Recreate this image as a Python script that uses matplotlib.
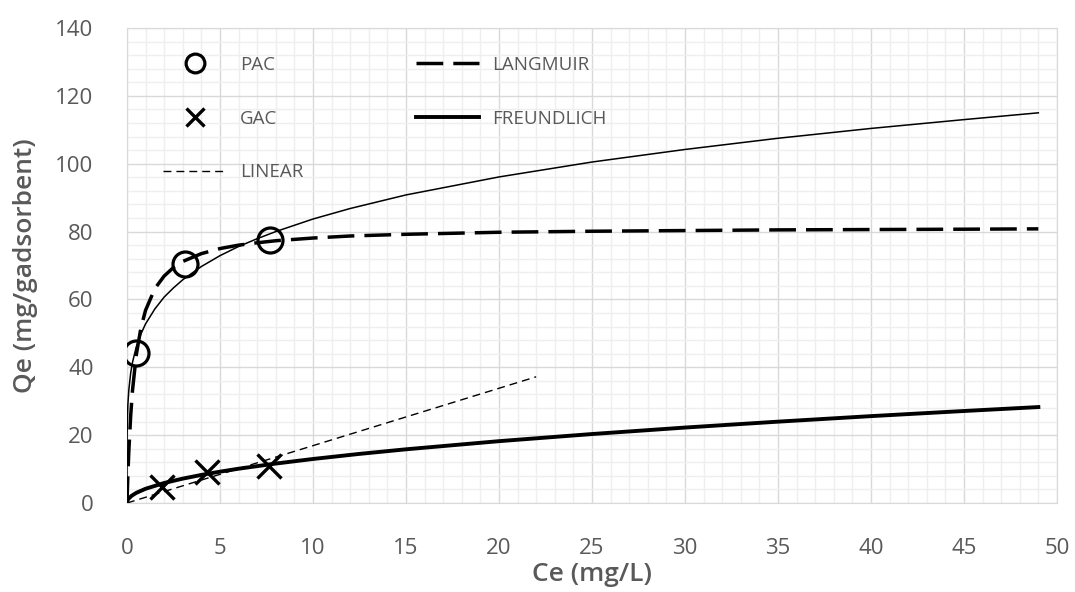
import matplotlib
matplotlib.use("Agg")
import matplotlib.pyplot as plt
from matplotlib.ticker import MultipleLocator

# measured points
pac_ce = [0.5, 3.1, 7.7]
pac_qe = [44.3, 70.4, 77.6]
gac_ce = [1.86, 4.32, 7.63]
gac_qe = [4.8, 9.0, 10.8]

# Langmuir fit curve (PAC)
lang_ce = [0, 0.05, 0.1, 0.2, 0.3, 0.5, 0.75, 1, 1.5, 2, 2.5, 3, 4, 5, 6, 7, 8,
           10, 12, 15, 20, 25, 30, 35, 40, 45, 49]
lang_qe = [0, 8.4, 15.2, 25.7, 33.3, 43.6, 51.6, 56.8, 63.2, 66.9, 69.4, 71.2,
           73.5, 75.0, 76.0, 76.7, 77.3, 78.1, 78.7, 79.2, 79.8, 80.1, 80.3,
           80.5, 80.6, 80.7, 80.8]

# Freundlich fit curve (PAC), thin line
fpac_ce = [0, 0.001, 0.005, 0.01, 0.02, 0.05, 0.1, 0.2, 0.3, 0.5, 0.75, 1, 1.5,
           2, 2.5, 3, 4, 5, 6, 7, 8, 10, 12, 15, 20, 25, 30, 35, 40, 45, 49]
fpac_qe = [0, 13.3, 18.3, 21.0, 24.1, 29.0, 33.3, 38.3, 41.5, 46.0, 49.8, 52.8,
           57.2, 60.7, 63.4, 65.8, 69.7, 72.9, 75.6, 77.9, 80.0, 83.7, 86.8,
           90.8, 96.1, 100.5, 104.2, 107.5, 110.4, 113.0, 115.0]

# Freundlich fit curve (GAC), thick line
fgac_ce = [0, 0.01, 0.05, 0.1, 0.25, 0.5, 1, 2, 3, 4, 5, 6, 8, 10, 12.5, 15,
           20, 25, 30, 35, 40, 45, 49]
fgac_qe = [0, 0.44, 0.97, 1.35, 2.13, 2.99, 4.20, 5.90, 7.19, 8.28, 9.24,
           10.11, 11.63, 12.98, 14.48, 15.83, 18.23, 20.33, 22.24, 23.98,
           25.61, 27.12, 28.28]

# Linear fit (GAC)
lin_ce = [0, 22]
lin_qe = [0, 37.2]

x_ticks = [0, 5, 10, 15, 20, 25, 30, 35, 40, 45, 50]
y_ticks = [0, 20, 40, 60, 80, 100, 120, 140]

plt.rcParams['font.family'] = ['Open Sans', 'DejaVu Sans']
grey = '#595959'

fig = plt.figure(figsize=(10.75, 5.92), dpi=100)
ax = fig.add_axes([0.1181, 0.1503, 0.8651, 0.8024])

l_pac, = ax.plot(pac_ce, pac_qe, 'o', ms=18, mfc='none', mec='black', mew=2.3, zorder=5)
l_gac, = ax.plot(gac_ce, gac_qe, 'x', ms=17, mec='black', mew=2.4, zorder=5)
l_lin, = ax.plot(lin_ce, lin_qe, color='black', lw=1.0, dashes=(5.7, 3.6), zorder=3)
l_lang, = ax.plot(lang_ce, lang_qe, color='black', lw=2.5, dashes=(7.7, 2.9), zorder=4)
l_fgac, = ax.plot(fgac_ce, fgac_qe, color='black', lw=2.8, zorder=4)
ax.plot(fpac_ce, fpac_qe, color='black', lw=1.1, zorder=4)

ax.set_xlim(0, 50)
ax.set_ylim(0, 140)
ax.set_xticks(x_ticks)
ax.set_yticks(y_ticks)
ax.xaxis.set_minor_locator(MultipleLocator(1))
ax.yaxis.set_minor_locator(MultipleLocator(4))
ax.grid(which='major', color='#d9d9d9', lw=1.0)
ax.grid(which='minor', color='#efefef', lw=1.0)
ax.set_axisbelow(True)
ax.tick_params(which='both', length=0)
ax.tick_params(axis='x', pad=25, labelsize=16, labelcolor=grey)
ax.tick_params(axis='y', pad=24, labelsize=16, labelcolor=grey)
for s in ax.spines.values():
    s.set_color('#d9d9d9')

ax.set_xlabel('Ce (mg/L)', fontsize=19, color=grey, fontweight='semibold')
ax.set_ylabel('Qe (mg/gadsorbent)', fontsize=19, color=grey, fontweight='semibold')
ax.xaxis.set_label_coords(0.5, -0.124)
ax.yaxis.set_label_coords(-0.096, 0.5)

leg = ax.legend([l_pac, l_gac, l_lin, l_lang, l_fgac],
                ['PAC', 'GAC', 'LINEAR', 'LANGMUIR', 'FREUNDLICH'],
                ncol=2, frameon=False, loc='upper left',
                bbox_to_anchor=(0.0387, 0.941), borderaxespad=0, borderpad=0,
                handlelength=3.4, handletextpad=0.7, columnspacing=6.0,
                labelspacing=1.9, markerscale=0.75,
                prop={'size': 13.5})
for t in leg.get_texts():
    t.set_color(grey)

fig.savefig('out.png', dpi=100)
